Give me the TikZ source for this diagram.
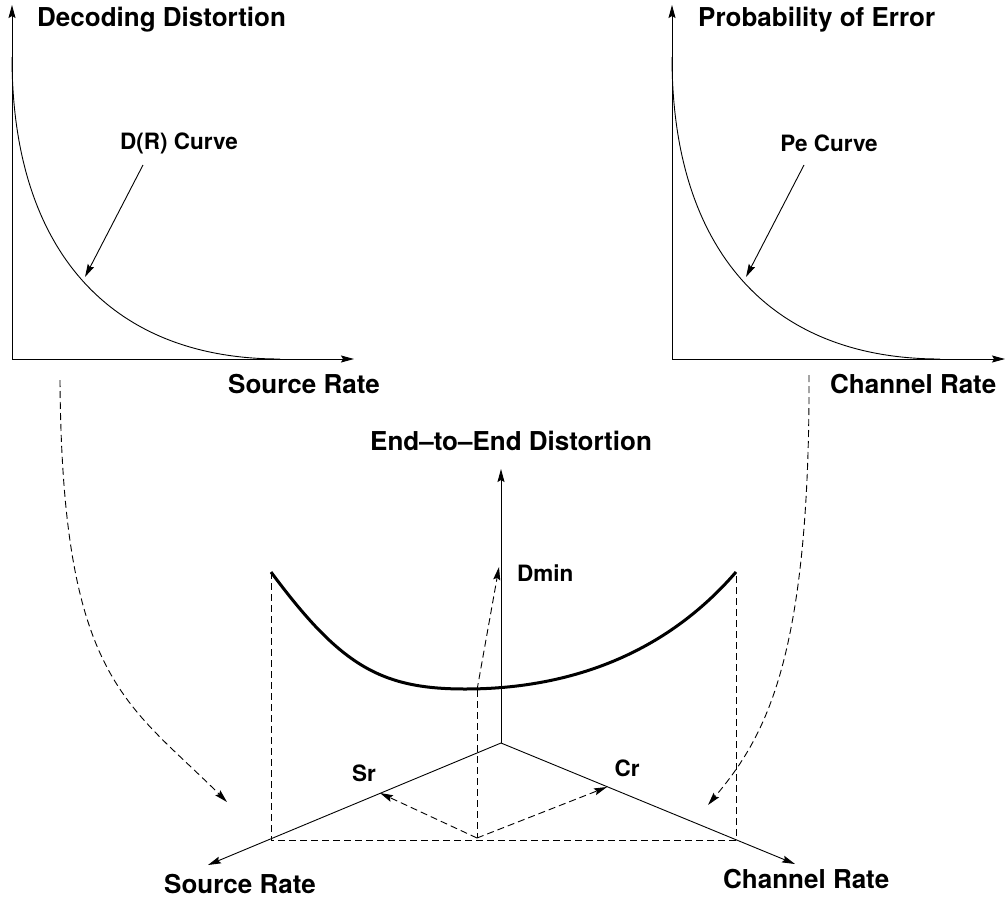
\documentclass[tikz,border=0pt]{standalone}
\usepackage{fontspec}
\setmainfont{TeX Gyre Heros}
\usetikzlibrary{arrows.meta}
\begin{document}
\begin{tikzpicture}[x=1pt,y=-1pt,
  tip/.style={-{Stealth[length=13pt,width=7pt,inset=2pt]}},
  ax/.style={line width=0.9pt,tip},
  thinline/.style={line width=0.9pt},
  dsh/.style={line width=0.9pt,dash pattern=on 7pt off 4pt},
  dsharrow/.style={dsh,tip},
  big/.style={font=\fontsize{26}{30}\selectfont\bfseries,inner sep=0pt},
  small/.style={font=\fontsize{22.5}{26}\selectfont\bfseries,inner sep=0pt},
]
\useasboundingbox (0,0) rectangle (1006,899);

% ---------- top-left plot ----------
\coordinate (o1) at (12,359);
\coordinate (y1) at (12,5);
\coordinate (x1) at (354,359);
\coordinate (c1s) at (12,57);
\coordinate (c1e) at (280,359);
\coordinate (p1) at (85,277);
\coordinate (q1) at (143,165);
\draw[ax] (o1) -- (y1);
\draw[ax] (o1) -- (x1);
\draw[thinline] (c1s) .. controls (12,250) and (110,359) .. (c1e);
\node[big,anchor=west] (t1) at (37,20) {Decoding Distortion};
\node[small] (l1) at (179,143) {D(R) Curve};
\draw[ax] (q1) -- (p1);
\node[big,anchor=west] (sr1) at (228,384) {Source Rate};

% ---------- top-right plot ----------
\coordinate (o2) at (672,359);
\coordinate (y2) at (672,5);
\coordinate (x2) at (1005,359);
\coordinate (c2s) at (672,57);
\coordinate (c2e) at (940,359);
\coordinate (p2) at (746,277);
\coordinate (q2) at (804,165);
\draw[ax] (o2) -- (y2);
\draw[ax] (o2) -- (x2);
\draw[thinline] (c2s) .. controls (672,250) and (770,359) .. (c2e);
\node[big,anchor=west] (t2) at (698,20) {Probability of Error};
\node[small] (l2) at (829,143) {Pe Curve};
\draw[ax] (q2) -- (p2);
\node[big,anchor=west] (cr1) at (830,384) {Channel Rate};

% ---------- bottom 3D plot ----------
\coordinate (O) at (501,743);
\coordinate (Z) at (501,469);
\coordinate (L) at (208,865);
\coordinate (R) at (795,864);
\draw[ax] (O) -- (Z);
\draw[ax] (O) -- (L);
\draw[ax] (O) -- (R);
\node[big,anchor=west] (t3) at (370,441) {End--to--End Distortion};
\node[small,anchor=west] (dmin) at (517,573) {Dmin};
\node[small] (srl) at (364,773) {Sr};
\node[small] (crl) at (627,768) {Cr};
\node[big,anchor=west] (sr2) at (164,884) {Source Rate};
\node[big,anchor=west] (cr2) at (723,879) {Channel Rate};

\coordinate (A) at (271,572);
\coordinate (B) at (736,572);
\coordinate (A0) at (271,840);
\coordinate (B0) at (736,840);
\coordinate (M) at (477,690);
\coordinate (M0) at (477,838);
\coordinate (Dm) at (499,567);
\coordinate (Sp) at (380,793);
\coordinate (Cp) at (607,787);
\coordinate (Cmin) at (465,689);

\draw[line width=3pt] (A) .. controls (340,665) and (380,689) .. (Cmin)
      .. controls (560,689) and (660,660) .. (B);

\draw[dsh] (A) -- (A0) -- (B0) -- (B);
\draw[dsh] (M) -- (M0);
\draw[dsharrow] (M) -- (Dm);
\draw[dsharrow] (M0) -- (Sp);
\draw[dsharrow] (M0) -- (Cp);

% curved transfer arrows
\coordinate (s1) at (60,380);
\coordinate (e1) at (227,802);
\coordinate (s2) at (809,375);
\coordinate (e2) at (708,805);
\draw[dsharrow] (s1) .. controls (62,680) and (127,702) .. (e1);
\draw[dsharrow] (s2) .. controls (810,660) and (765,737) .. (e2);
\end{tikzpicture}
\end{document}
